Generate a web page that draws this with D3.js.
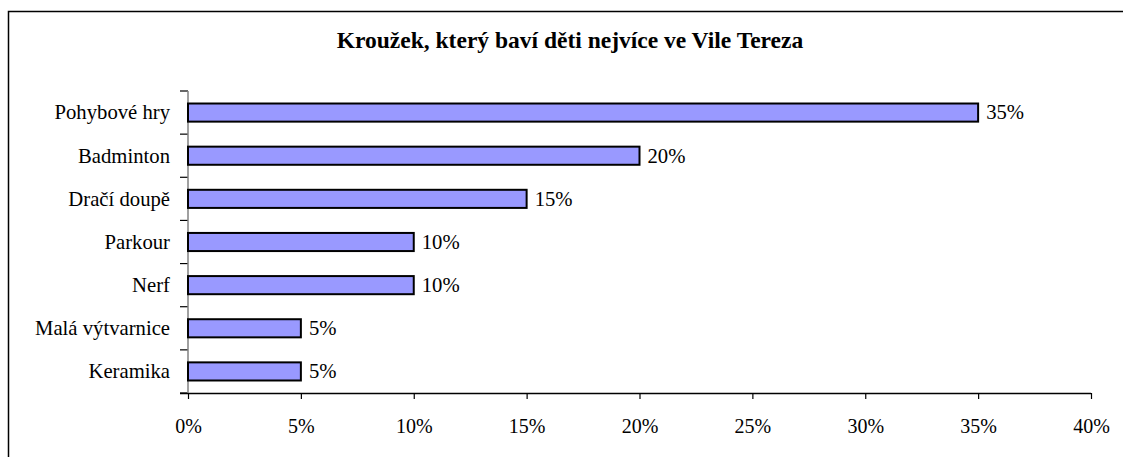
<!DOCTYPE html>
<html>
<head>
<meta charset="utf-8">
<script src="https://cdn.jsdelivr.net/npm/d3@7"></script>
<style>
  body { margin: 0; background: #fff; }
  svg text { font-family: "Liberation Serif", "Times New Roman", serif; fill: #000; }
</style>
</head>
<body>
<svg id="chart" width="1123" height="457"></svg>
<script>
// données
let categories = ["Pohybové hry", "Badminton", "Dračí doupě", "Parkour", "Nerf", "Malá výtvarnice", "Keramika"];
let values = [0.35, 0.20, 0.15, 0.10, 0.10, 0.05, 0.05];
let ticks = [0, 0.05, 0.10, 0.15, 0.20, 0.25, 0.30, 0.35, 0.40];
let title = "Kroužek, který baví děti nejvíce ve Vile Tereza";

let svg = d3.select("#chart");

// cadre extérieur (coupé à droite et en bas comme l'original)
svg.append("rect")
  .attr("x", 8.5).attr("y", 11.5)
  .attr("width", 1200).attr("height", 500)
  .attr("fill", "none")
  .attr("stroke", "#000")
  .attr("stroke-width", 1.5);

svg.append("text")
  .attr("x", 570).attr("y", 48)
  .attr("text-anchor", "middle")
  .attr("font-size", 23.5)
  .attr("font-weight", "bold")
  .text(title);

let x = d3.scaleLinear().domain([0, 0.40]).range([188, 1091]);
let y = d3.scaleBand().domain(categories).range([91, 393]).paddingInner(0.58).paddingOuter(0.29);

// axe X
let gx = svg.append("g").attr("transform", "translate(0,393)")
  .call(d3.axisBottom(x).tickValues(ticks).tickFormat(d => Math.round(d * 100) + "%").tickSize(6).tickSizeOuter(0).tickPadding(21));
gx.select(".domain").attr("stroke", "#000").attr("stroke-width", 1.5).attr("d", "M180,0.5H1091");
gx.selectAll(".tick line").attr("stroke", "#000").attr("stroke-width", 1.2);
gx.selectAll(".tick text").attr("font-size", 20).attr("dy", "0.35em").attr("y", 33);

// axe Y
let bandTicks = d3.range(categories.length + 1).map(i => 91 + i * (302 / categories.length));
svg.append("g").selectAll("line")
  .data(bandTicks)
  .join("line")
  .attr("x1", 180).attr("x2", 188)
  .attr("y1", d => d).attr("y2", d => d)
  .attr("stroke", "#000").attr("stroke-width", 1.2);
svg.append("line")
  .attr("x1", 188).attr("x2", 188).attr("y1", 91).attr("y2", 393)
  .attr("stroke", "#808080").attr("stroke-width", 1.5);

svg.append("g").selectAll("text")
  .data(categories)
  .join("text")
  .attr("x", 170)
  .attr("y", d => y(d) + y.bandwidth() / 2)
  .attr("dy", "0.33em")
  .attr("text-anchor", "end")
  .attr("font-size", 20.7)
  .text(d => d);

// barres
svg.append("g").selectAll("rect")
  .data(categories)
  .join("rect")
  .attr("x", x(0))
  .attr("y", d => y(d))
  .attr("width", (d, i) => x(values[i]) - x(0))
  .attr("height", y.bandwidth())
  .attr("fill", "#9999FF")
  .attr("stroke", "#000")
  .attr("stroke-width", 2);

// étiquettes de valeur
svg.append("g").selectAll("text")
  .data(categories)
  .join("text")
  .attr("x", (d, i) => x(values[i]) + 8)
  .attr("y", d => y(d) + y.bandwidth() / 2)
  .attr("dy", "0.33em")
  .attr("font-size", 20.7)
  .text((d, i) => Math.round(values[i] * 100) + "%");
</script>
</body>
</html>
